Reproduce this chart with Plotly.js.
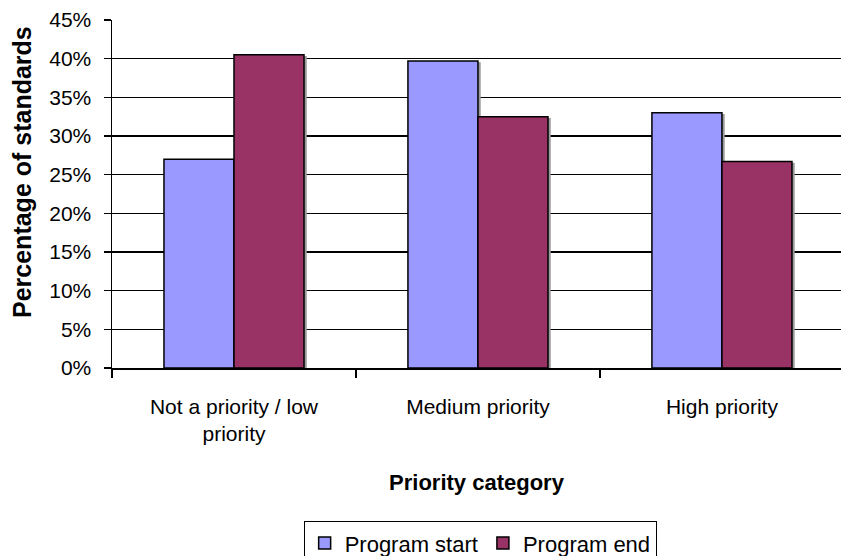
<!DOCTYPE html>
<html>
<head>
<meta charset="utf-8">
<script src="https://cdn.plot.ly/plotly-3.0.1.min.js"></script>
<style>
  html, body { margin: 0; padding: 0; background: #fff; }
  #chart { width: 841px; height: 556px; }
  /* soft drop shadow behind each bar */
  .bars .point path { filter: drop-shadow(2px 2px 0 #9a9a9a); }
</style>
</head>
<body>
<div id="chart"></div>
<script>
// Share of standards in each priority category, at program start and end (%)
const categories = ["Not a priority / low<br>priority", "Medium priority", "High priority"];
const programStart = [27.0, 39.7, 33.0];
const programEnd = [40.5, 32.5, 26.7];
const seriesNames = ["Program start", "Program end"];
const yTicks = [0, 5, 10, 15, 20, 25, 30, 35, 40, 45];
const yTickText = yTicks.map(v => v + "%");

const font = "Liberation Sans, Arial, sans-serif";

const traces = [
  {
    type: "bar", name: seriesNames[0], x: categories, y: programStart,
    marker: { color: "#9999FF", line: { color: "#000", width: 1.5 } },
    hoverinfo: "skip"
  },
  {
    type: "bar", name: seriesNames[1], x: categories, y: programEnd,
    marker: { color: "#993366", line: { color: "#000", width: 1.5 } },
    hoverinfo: "skip"
  }
];

const layout = {
  width: 841, height: 556,
  margin: { l: 112, r: 0, t: 20, b: 188, autoexpand: false },
  paper_bgcolor: "#fff", plot_bgcolor: "#fff",
  font: { family: font, size: 21, color: "#000" },
  barmode: "group",
  bargap: 0.426, bargroupgap: 0,
  showlegend: true,
  legend: {
    orientation: "h", x: 0.505, xanchor: "center", y: -0.44, yanchor: "top",
    bordercolor: "#000", borderwidth: 1, font: { size: 22 },
    tracegroupgap: 0
  },
  xaxis: {
    type: "category",
    range: [-0.5, 2.488],
    showline: true, linecolor: "#000", linewidth: 1.5,
    ticks: "outside", tickson: "boundaries", ticklen: 8, tickcolor: "#000", tickwidth: 1.5,
    ticklabelstandoff: 19,
    showgrid: false, zeroline: false,
    title: { text: "<b>Priority category</b>", font: { size: 22 }, standoff: 30 }
  },
  yaxis: {
    range: [0, 45],
    tickvals: yTicks, ticktext: yTickText,
    showline: true, linecolor: "#000", linewidth: 1.5,
    ticks: "outside", ticklen: 7, tickcolor: "#000", tickwidth: 1.5,
    ticklabelstandoff: 8,
    showgrid: true, gridcolor: "#000", gridwidth: 1.2,
    zeroline: false
  },
  annotations: [{
    text: "<b>Percentage of standards</b>",
    textangle: -90, showarrow: false,
    xref: "paper", yref: "paper",
    x: (22 - 112) / 729, y: (368 - 172) / 348,
    xanchor: "center", yanchor: "middle",
    font: { size: 25 }
  }]
};

Plotly.newPlot("chart", traces, layout, { displayModeBar: false, staticPlot: true });
</script>
</body>
</html>
